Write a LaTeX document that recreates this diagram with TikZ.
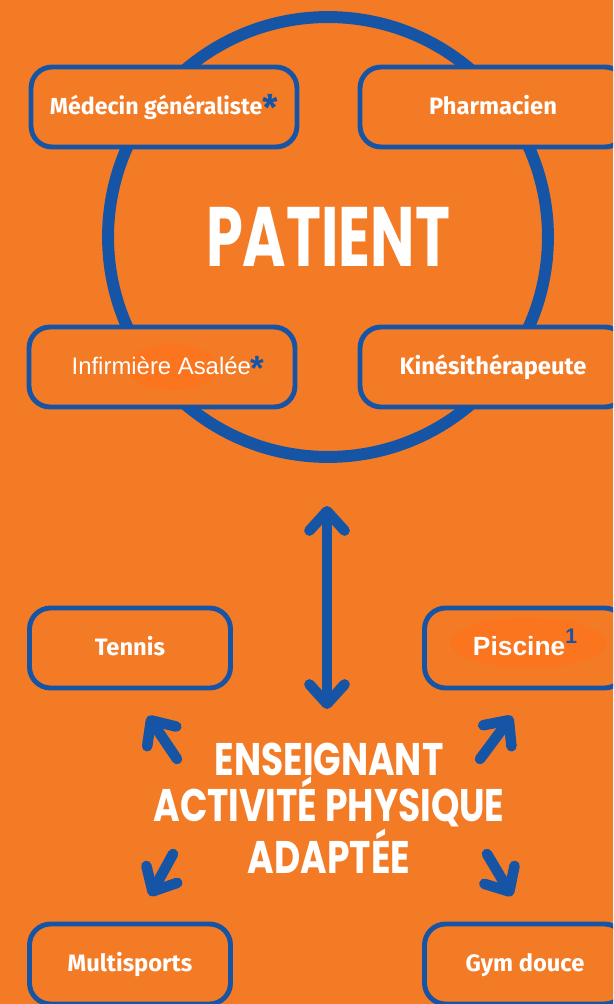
\documentclass[tikz,border=0pt]{standalone}
\usepackage{fontspec}
\setmainfont{Liberation Sans}
\newfontfamily\boxfont{Fira Sans}
\newfontfamily\headfont{Poppins}
\usetikzlibrary{arrows.meta}
\definecolor{bgorange}{RGB}{243,123,38}
\definecolor{ringblue}{RGB}{22,84,166}
\definecolor{glow}{RGB}{251,116,30}
\newcommand\starnote{\textcolor{ringblue}{\raisebox{-3pt}{\fontsize{20}{20}\selectfont\bfseries *}}}
\newcommand\squeeze[1]{\scalebox{0.79}[1]{#1}}

\begin{document}
\begin{tikzpicture}[x=0.02cm, y=-0.02cm,
    tile/.style={rectangle, draw=ringblue, fill=bgorange, line width=2.8pt, rounded corners=0.42cm,
      minimum width=5.32cm, minimum height=1.6cm, text=white, text height=9pt, text depth=0pt,
      font=\boxfont\bfseries\fontsize{13.5}{15}\selectfont},
    smalltile/.style={tile, minimum width=4.02cm},
    arrowtip/.tip={Straight Barb[round, length=11pt, width=20pt]},
    link/.style={draw=ringblue, line width=6pt, line cap=round, -arrowtip},
  ]
    \fill[bgorange] (0,0) rectangle (613,1004);
    \clip (0,0) rectangle (613,1004);

    % Patient ring
    \node[circle, draw=ringblue, line width=6.8pt, minimum size=8.8cm, inner sep=0pt, text=white,
      font=\headfont\bfseries\fontsize{48}{48}\selectfont] (patient) at (328,237) {\scalebox{0.7}[1]{PATIENT}};

    % Care team
    \node[tile] (doctor) at (164,107) {\fontsize{13.2}{15}\selectfont M\'edecin g\'en\'eraliste\starnote};
    \node[tile] (pharma) at (493,107) {Pharmacien};
    \node[tile, path picture={\fill[glow] ([xshift=6] path picture bounding box.center) ellipse [x radius=45, y radius=23];}]
      (nurse) at (162,367) {\normalfont\fontsize{13.6}{15}\selectfont\hspace*{7pt}Infirmi\`ere Asal\'ee\starnote};
    \node[tile] (physio) at (493,367) {Kin\'esith\'erapeute};

    % Teacher
    \node[text=white, align=center, inner sep=0pt, font=\headfont\bfseries\fontsize{26}{24.5}\selectfont]
      (teacher) at (329,808) {\squeeze{ENSEIGNANT}\\\squeeze{ACTIVIT\'E PHYSIQUE}\\\squeeze{ADAPT\'EE}};

    % Activities
    \node[smalltile] (tennis) at (130,648) {Tennis};
    \node[smalltile, path picture={\fill[glow] ([xshift=2, yshift=3] path picture bounding box.center) ellipse [x radius=78, y radius=25];}]
      (pool) at (525,648) {\normalfont\fontsize{15}{16}\selectfont\bfseries Piscine\textcolor{ringblue}{\raisebox{7pt}{\fontsize{12}{12}\selectfont 1}}};
    \node[smalltile] (multi) at (130,964) {Multisports};
    \node[smalltile] (gym) at (525,964) {Gym douce};

    % Arrows
    \coordinate (ring-end) at (327,506);
    \coordinate (teach-top) at (327,709);
    \coordinate (nw-from) at (177,759);
    \coordinate (nw-to) at (148,716);
    \coordinate (ne-from) at (480,759);
    \coordinate (ne-to) at (512,716);
    \coordinate (sw-from) at (173,854);
    \coordinate (sw-to) at (150,896);
    \coordinate (se-from) at (487,854);
    \coordinate (se-to) at (512,896);

    \draw[link, arrowtip-arrowtip] (ring-end) -- (teach-top);
    \draw[link] (nw-from) -- (nw-to);
    \draw[link] (ne-from) -- (ne-to);
    \draw[link] (sw-from) -- (sw-to);
    \draw[link] (se-from) -- (se-to);
  \end{tikzpicture}
\end{document}
